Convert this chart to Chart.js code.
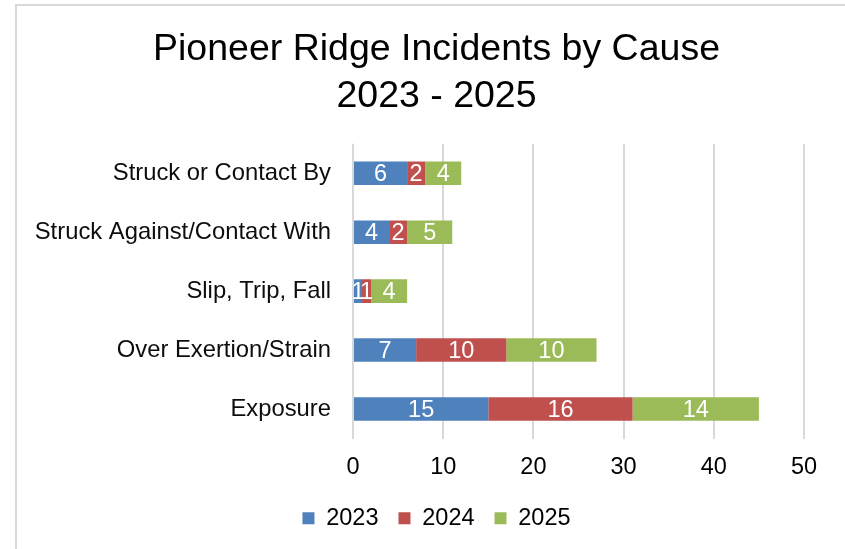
<!DOCTYPE html>
<html>
<head>
<meta charset="utf-8">
<script src="https://cdn.jsdelivr.net/npm/chart.js@4.4.0/dist/chart.umd.min.js"></script>
<style>
  html, body { margin: 0; padding: 0; background: #ffffff; }
  #wrap { width: 845px; height: 549px; position: relative; }
</style>
</head>
<body>
<div id="wrap"><canvas id="c" width="845" height="549"></canvas></div>
<script>
const categories = [
  "Struck or Contact By",
  "Struck Against/Contact With",
  "Slip, Trip, Fall",
  "Over Exertion/Strain",
  "Exposure"
];
const values2023 = [6, 4, 1, 7, 15];
const values2024 = [2, 2, 1, 10, 16];
const values2025 = [4, 5, 4, 10, 14];
const seriesNames = ["2023", "2024", "2025"];
const titleLines = ["Pioneer Ridge Incidents by Cause", "2023 - 2025"];
const xTicks = [0, 10, 20, 30, 40, 50];

const FONT = "'Liberation Sans', Arial, sans-serif";
const FS = 23.5;

const frame = {
  id: 'frame',
  beforeDraw(chart) {
    const ctx = chart.ctx;
    ctx.save();
    ctx.fillStyle = '#ffffff';
    ctx.fillRect(0, 0, chart.width, chart.height);
    ctx.strokeStyle = '#d9d9d9';
    ctx.lineWidth = 2;
    ctx.strokeRect(16, 5, 2000, 2000);
    ctx.restore();
  }
};

const barLabels = {
  id: 'barLabels',
  afterDatasetsDraw(chart) {
    const ctx = chart.ctx;
    ctx.save();
    ctx.font = FS + 'px ' + FONT;
    ctx.fillStyle = '#ffffff';
    ctx.textAlign = 'center';
    ctx.textBaseline = 'middle';
    chart.data.datasets.forEach((ds, di) => {
      const meta = chart.getDatasetMeta(di);
      meta.data.forEach((bar, i) => {
        const v = ds.data[i];
        if (!v) return;
        const cx = (bar.x + bar.base) / 2;
        ctx.fillText(String(v), cx, bar.y + 1);
      });
    });
    ctx.restore();
  }
};

new Chart(document.getElementById('c'), {
  type: 'bar',
  data: {
    labels: categories,
    datasets: [
      { label: seriesNames[0], data: values2023, backgroundColor: '#4F81BD' },
      { label: seriesNames[1], data: values2024, backgroundColor: '#C0504D' },
      { label: seriesNames[2], data: values2025, backgroundColor: '#9BBB59' }
    ]
  },
  options: {
    indexAxis: 'y',
    responsive: false,
    animation: false,
    devicePixelRatio: 1,
    layout: { padding: { left: 28, right: 0, top: 0, bottom: 9 } },
    datasets: { bar: { categoryPercentage: 0.4, barPercentage: 1.0, borderWidth: 0 } },
    scales: {
      x: {
        stacked: true,
        min: 0, max: 50,
        afterBuildTicks: s => { s.ticks = xTicks.map(v => ({ value: v })); },
        afterFit: s => { s.height = 48; },
        grid: { color: '#d9d9d9', lineWidth: 2, drawTicks: false },
        border: { display: false },
        ticks: { color: '#000000', font: { family: FONT, size: FS, lineHeight: '26px' }, padding: 16, maxRotation: 0 }
      },
      y: {
        stacked: true,
        grid: { display: false, drawTicks: false },
        border: { display: false },
        afterFit: s => { s.width = 325; },
        ticks: { color: '#0d0d0d', font: { family: FONT, size: 23.8 }, padding: 22 }
      },
      yRight: {
        position: 'right',
        type: 'linear',
        display: true,
        grid: { display: false, drawTicks: false },
        border: { display: false },
        ticks: { display: false },
        afterFit: s => { s.width = 41; }
      }
    },
    plugins: {
      title: {
        display: true,
        text: titleLines,
        color: '#000000',
        font: { family: FONT, size: 37.5, weight: 'normal', lineHeight: 1.25 },
        padding: { top: 26.5, bottom: 23.5 }
      },
      legend: {
        position: 'bottom',
        labels: {
          color: '#000000',
          font: { family: FONT, size: FS },
          boxWidth: 12, boxHeight: 12,
          padding: 20
        }
      },
      tooltip: { enabled: false }
    }
  },
  plugins: [frame, barLabels]
});
</script>
</body>
</html>
